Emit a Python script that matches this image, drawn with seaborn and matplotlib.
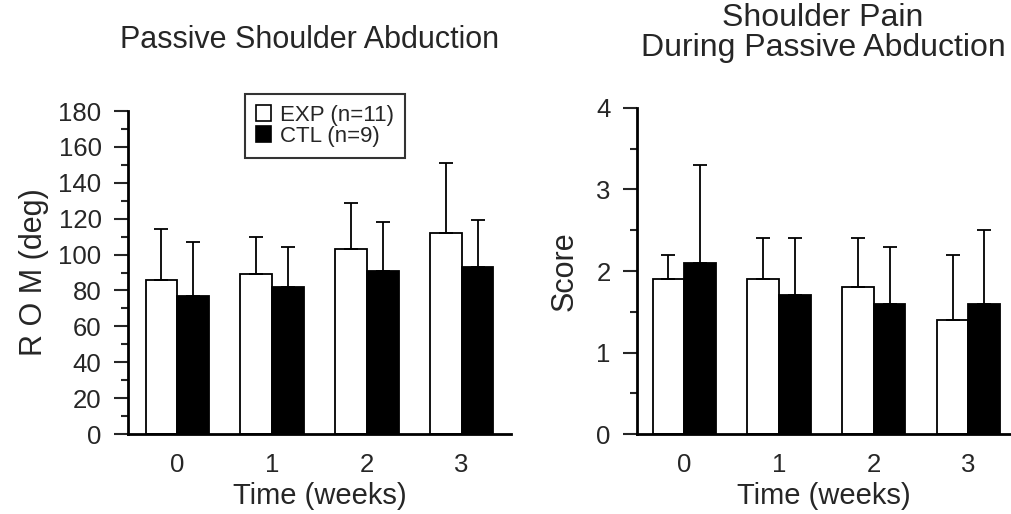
import matplotlib
matplotlib.use("Agg")
import matplotlib.pyplot as plt
import seaborn as sns
import pandas as pd
import numpy as np
from matplotlib.patches import Patch
from matplotlib.ticker import MultipleLocator

sns.set_theme(style="ticks")
plt.rcParams['font.family'] = ['Liberation Sans', 'DejaVu Sans']

weeks = ["0", "1", "2", "3"]
groups = ["EXP (n=11)", "CTL (n=9)"]
rom_exp = [86, 89, 103, 112]
rom_ctl = [77, 82, 91, 93]
rom_exp_err = [28, 21, 26, 39]
rom_ctl_err = [30, 22, 27, 26]
pain_exp = [1.9, 1.9, 1.8, 1.4]
pain_ctl = [2.1, 1.7, 1.6, 1.6]
pain_exp_err = [0.3, 0.5, 0.6, 0.8]
pain_ctl_err = [1.2, 0.7, 0.7, 0.9]

def make_df(exp, ctl, exp_err, ctl_err):
    rows = []
    for w, v, e in zip(weeks, exp, exp_err):
        rows.append({"week": w, "group": groups[0], "value": v, "err": e})
    for w, v, e in zip(weeks, ctl, ctl_err):
        rows.append({"week": w, "group": groups[1], "value": v, "err": e})
    return pd.DataFrame(rows)

df_rom = make_df(rom_exp, rom_ctl, rom_exp_err, rom_ctl_err)
df_pain = make_df(pain_exp, pain_ctl, pain_exp_err, pain_ctl_err)

fig = plt.figure(figsize=(10.11, 5.14), dpi=100)
ax1 = fig.add_axes([0.1266, 0.1556, 0.3788, 0.6284])
ax2 = fig.add_axes([0.630, 0.1556, 0.370, 0.6343])

palette = {groups[0]: "white", groups[1]: "black"}

def draw(ax, df, ylim, major, minor, ylabel, ylabelpad):
    sns.barplot(data=df, x="week", y="value", hue="group", order=weeks,
                hue_order=groups, palette=palette, edgecolor="black",
                linewidth=1.3, width=0.67, errorbar=None, legend=False, ax=ax,
                saturation=1)
    patches = [p for p in ax.patches if p.get_height() > 0]
    vals = list(df["value"])
    errs = list(df["err"])
    for p in patches:
        xc = p.get_x() + p.get_width() / 2
        h = p.get_height()
        idx = None
        for i, v in enumerate(vals):
            if abs(v - h) < 1e-9:
                idx = i
                break
        e = errs[idx]
        vals[idx] = np.nan
        ax.errorbar([xc], [h], yerr=[[0], [e]], fmt="none", ecolor="black",
                    elinewidth=1.3, capsize=5, capthick=1.3, zorder=1)
    ax.set_ylim(*ylim)
    ax.set_xlim(-0.52, 3.52)
    ax.yaxis.set_major_locator(MultipleLocator(major))
    ax.yaxis.set_minor_locator(MultipleLocator(minor))
    ax.tick_params(axis="y", which="major", length=10, width=1.5, labelsize=18.5, direction="out", pad=9)
    ax.tick_params(axis="y", which="minor", length=5, width=1.5, direction="out")
    ax.tick_params(axis="x", length=0, labelsize=18.5, pad=14)
    for s in ["top", "right"]:
        ax.spines[s].set_visible(False)
    for s in ["left", "bottom"]:
        ax.spines[s].set_linewidth(2)
        ax.spines[s].set_color("black")
    ax.set_xlabel("Time (weeks)", fontsize=21, labelpad=3)
    ax.set_ylabel(ylabel, fontsize=22, labelpad=ylabelpad)

draw(ax1, df_rom, (0, 180), 20, 10, "R O M (deg)", 7)
draw(ax2, df_pain, (0, 4), 1, 0.5, "Score", 12)
ax2.set_xlim(-0.5, 3.45)

fig.text(0.3066, 0.922, "Passive Shoulder Abduction", fontsize=22, ha="center", va="center")
fig.text(0.814, 0.936, "Shoulder Pain\nDuring Passive Abduction", fontsize=23,
         ha="center", va="center", linespacing=1.0)

handles = [Patch(facecolor="white", edgecolor="black", linewidth=1.2),
           Patch(facecolor="black", edgecolor="black", linewidth=1.2)]
leg = ax1.legend(handles, groups, loc="upper center", bbox_to_anchor=(0.514, 1.053),
                 fontsize=16, frameon=True, fancybox=False, edgecolor="black",
                 handlelength=0.7, handleheight=0.7, handletextpad=0.4,
                 labelspacing=0.0, borderpad=0.5, borderaxespad=0)
leg.get_frame().set_linewidth(1.5)

fig.savefig("out.png", dpi=100)
